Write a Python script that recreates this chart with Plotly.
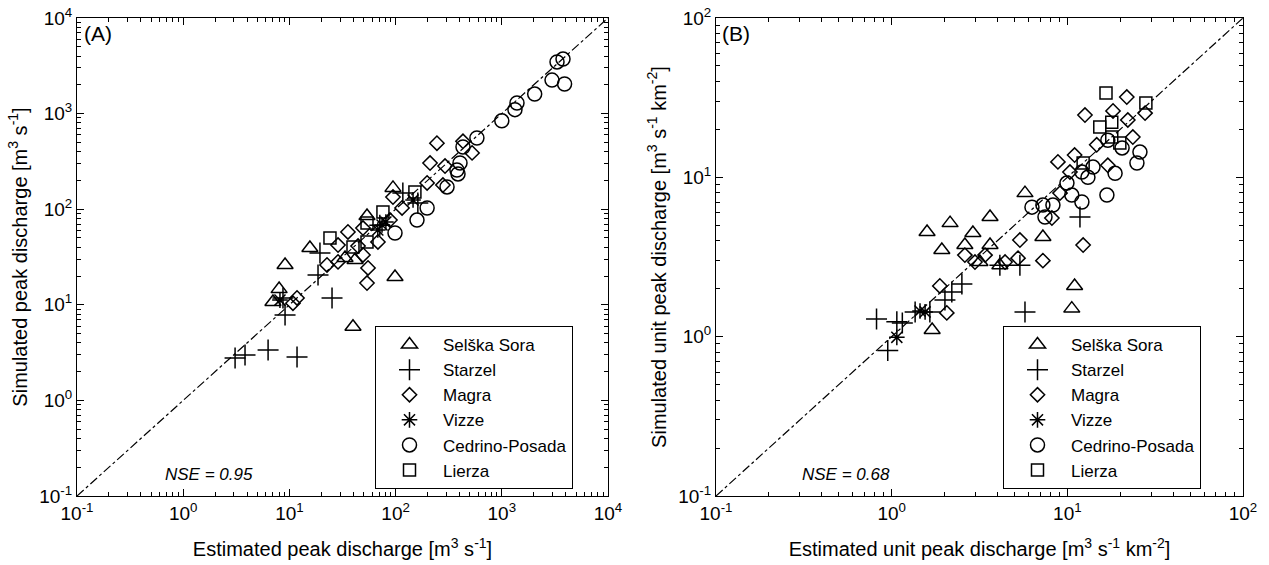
import plotly.graph_objects as go

# ---------------- Panel A data (m3/s) ----------------
a_sel_x = [15.6, 9.1, 8.0, 7.0, 98.7, 39.7, 53.8, 41.5, 33.4, 94.5]
a_sel_y = [39.3, 26.1, 14.6, 10.7, 19.5, 5.9, 84.9, 29.4, 30.9, 167]

a_sta_x = [3.08, 3.82, 6.3, 11.8, 25.2, 9.1, 8.7, 19.4, 18.6, 117, 162, 71]
a_sta_y = [2.78, 2.99, 3.37, 2.84, 11.8, 7.8, 11.8, 34.8, 20.5, 148, 116, 68]

a_mag_x = [10.8, 28.7, 22.6, 35.6, 49.3, 55, 53.8, 68.2, 94.5, 115, 211, 279, 245, 431, 525, 292, 198, 28.7, 49.3, 44.3, 11.8, 88.5]
a_mag_y = [10.4, 28.1, 26.1, 57.8, 33.2, 24.3, 16.9, 45.4, 134, 103, 304, 179, 490, 513, 388, 283, 188, 42.2, 63.5, 41.2, 11.8, 77]

a_viz_x = [8.15, 74.5, 81, 146, 68]
a_viz_y = [11.2, 68.4, 73.5, 125, 60.5]

a_ced_x = [3770, 3310, 2970, 3900, 2040, 1390, 1330, 1000, 583, 431, 404, 387, 98.7, 159, 198, 305, 378]
a_ced_y = [3720, 3470, 2240, 2040, 1600, 1290, 1100, 840, 556, 447, 304, 234, 56.4, 77, 103, 171, 257]

a_lie_x = [24.1, 53.8, 76, 39.7, 53.8, 152]
a_lie_y = [50, 71.7, 93.5, 40.2, 45.4, 151]

# ---------------- Panel B data (m3/s/km2) ----------------
b_sel_x = [5.74, 3.63, 2.15, 1.59, 2.90, 1.93, 7.26, 1.70, 11.0, 10.6, 2.61, 3.18, 3.63, 4.13]
b_sel_y = [7.96, 5.64, 5.16, 4.54, 4.47, 3.50, 4.22, 1.10, 2.08, 1.50, 3.76, 2.94, 3.76, 2.81]

b_sta_x = [0.82, 1.07, 0.95, 1.15, 1.36, 1.65, 11.8, 5.74, 2.01, 2.20, 2.51, 4.13, 5.37]
b_sta_y = [1.29, 1.24, 0.82, 1.22, 1.43, 1.43, 5.64, 1.43, 1.70, 1.91, 2.14, 2.81, 2.81]

b_mag_x = [21.8, 12.6, 18.2, 22.1, 23.6, 14.7, 11.0, 8.84, 17.0, 10.35, 9.08, 12.3, 8.17, 27.7, 1.88, 2.06, 2.61, 2.98, 3.40, 4.42, 5.24, 5.37, 7.26]
b_mag_y = [31.9, 24.6, 26.1, 22.9, 17.9, 16.0, 13.8, 12.5, 11.9, 10.8, 7.96, 3.76, 5.55, 25.3, 2.08, 1.41, 3.25, 2.94, 3.25, 2.94, 3.11, 4.04, 3.0]

b_viz_x = [1.07, 1.55, 1.45]
b_viz_y = [0.99, 1.43, 1.45]

b_ced_x = [25.9, 24.9, 18.7, 13.1, 12.1, 14.0, 9.95, 10.6, 16.8, 12.1, 8.28, 7.26, 6.29, 7.46, 17.0, 20.5]
b_ced_y = [14.4, 12.3, 10.6, 10.0, 10.8, 11.6, 9.2, 7.74, 7.74, 7.0, 6.7, 6.7, 6.5, 5.64, 17.1, 15.3]

b_lie_x = [16.6, 28.0, 15.3, 17.9, 19.9, 17.9, 12.3]
b_lie_y = [33.8, 29.3, 20.7, 22.2, 16.4, 17.9, 12.3]

# ---------------- ticks ----------------
a_major = [0.1, 1, 10, 100, 1000, 10000]
a_major_text = ["10<sup>-1</sup>", "10<sup>0</sup>", "10<sup>1</sup>", "10<sup>2</sup>", "10<sup>3</sup>", "10<sup>4</sup>"]
b_major = [0.1, 1, 10, 100]
b_major_text = ["10<sup>-1</sup>", "10<sup>0</sup>", "10<sup>1</sup>", "10<sup>2</sup>"]
a_minor = [m * d for d in [0.1, 1, 10, 100, 1000] for m in range(2, 10)]
b_minor = [m * d for d in [0.1, 1, 10] for m in range(2, 10)]

names = ["Selška Sora", "Starzel", "Magra", "Vizze", "Cedrino-Posada", "Lierza"]
symbols = ["triangle-up-open", "cross-thin-open", "diamond-open",
           "asterisk-open", "circle-open", "square-open"]
sizes = [14, 15, 11, 13, 14, 12]

a_sets = [(a_sel_x, a_sel_y), (a_sta_x, a_sta_y), (a_mag_x, a_mag_y),
          (a_viz_x, a_viz_y), (a_ced_x, a_ced_y), (a_lie_x, a_lie_y)]
b_sets = [(b_sel_x, b_sel_y), (b_sta_x, b_sta_y), (b_mag_x, b_mag_y),
          (b_viz_x, b_viz_y), (b_ced_x, b_ced_y), (b_lie_x, b_lie_y)]

a_line = [0.1, 1e4]
b_line = [0.1, 1e2]

FONT = "Liberation Sans, Arial, sans-serif"

fig = go.Figure()

# 1:1 lines (drawn on the overlay axes that carry the minor ticks)
fig.add_trace(go.Scatter(x=a_line, y=a_line, mode="lines", xaxis="x3", yaxis="y3",
                         line=dict(color="black", width=1.2, dash="dashdot"),
                         showlegend=False, hoverinfo="skip"))
fig.add_trace(go.Scatter(x=b_line, y=b_line, mode="lines", xaxis="x4", yaxis="y4",
                         line=dict(color="black", width=1.2, dash="dashdot"),
                         showlegend=False, hoverinfo="skip"))

for i, (xs, ys) in enumerate(a_sets):
    fig.add_trace(go.Scatter(
        x=xs, y=ys, mode="markers", name=names[i], xaxis="x", yaxis="y",
        legend="legend",
        marker=dict(symbol=symbols[i], size=sizes[i], color="black",
                    line=dict(color="black", width=1.5))))
for i, (xs, ys) in enumerate(b_sets):
    fig.add_trace(go.Scatter(
        x=xs, y=ys, mode="markers", name=names[i], xaxis="x2", yaxis="y2",
        legend="legend2",
        marker=dict(symbol=symbols[i], size=sizes[i], color="black",
                    line=dict(color="black", width=1.5))))

W, H = 1269, 565
axA = [77 / W, 608 / W]
axB = [716 / W, 1243 / W]
ydom = [1 - 496 / H, 1 - 18 / H]


def major_axis(rng, dom, title, anchor, vals, texts, standoff):
    return dict(
        type="log", range=rng, domain=dom, anchor=anchor,
        tickmode="array", tickvals=vals, ticktext=texts,
        ticks="inside", ticklen=7, tickwidth=1, tickcolor="black",
        mirror="ticks", showline=True, linecolor="black", linewidth=1,
        showgrid=False, zeroline=False, automargin=False,
        tickfont=dict(size=19, color="black", family=FONT),
        title=dict(text=title, font=dict(size=20, color="black", family=FONT), standoff=standoff),
    )


def minor_axis(rng, over, anchor, vals):
    return dict(
        type="log", range=rng, overlaying=over, anchor=anchor,
        tickmode="array", tickvals=vals, showticklabels=False,
        ticks="inside", ticklen=4, tickwidth=1, tickcolor="black",
        mirror="ticks", showline=False, showgrid=False, zeroline=False,
        automargin=False,
    )


fig.update_layout(
    width=W, height=H,
    margin=dict(l=0, r=0, t=0, b=0),
    paper_bgcolor="white", plot_bgcolor="white",
    font=dict(family=FONT, color="black"),
    xaxis=major_axis([-1, 4], axA, "Estimated peak discharge [m<sup>3</sup> s<sup>-1</sup>]", "y",
                     a_major, a_major_text, 19),
    yaxis=major_axis([-1, 4], ydom, "Simulated peak discharge [m<sup>3</sup> s<sup>-1</sup>]", "x",
                     a_major, a_major_text, 6),
    xaxis2=major_axis([-1, 2], axB, "Estimated unit peak discharge [m<sup>3</sup> s<sup>-1</sup> km<sup>-2</sup>]", "y2",
                      b_major, b_major_text, 19),
    yaxis2=major_axis([-1, 2], ydom, "Simulated unit peak discharge [m<sup>3</sup> s<sup>-1</sup> km<sup>-2</sup>]", "x2",
                      b_major, b_major_text, 6),
    xaxis3=minor_axis([-1, 4], "x", "y", a_minor),
    yaxis3=minor_axis([-1, 4], "y", "x", a_minor),
    xaxis4=minor_axis([-1, 2], "x2", "y2", b_minor),
    yaxis4=minor_axis([-1, 2], "y2", "x2", b_minor),
    legend=dict(x=375 / W, y=1 - 489 / H, xanchor="left", yanchor="bottom",
                bordercolor="black", borderwidth=1, bgcolor="white",
                font=dict(size=17, color="black", family=FONT), itemwidth=57),
    legend2=dict(x=1003 / W, y=1 - 489 / H, xanchor="left", yanchor="bottom",
                 bordercolor="black", borderwidth=1, bgcolor="white",
                 font=dict(size=17, color="black", family=FONT), itemwidth=57),
    annotations=[
        dict(text="(A)", x=82 / W, y=1 - 20 / H, xref="paper", yref="paper",
             xanchor="left", yanchor="top", showarrow=False,
             font=dict(size=21, color="black", family=FONT)),
        dict(text="(B)", x=720 / W, y=1 - 20 / H, xref="paper", yref="paper",
             xanchor="left", yanchor="top", showarrow=False,
             font=dict(size=21, color="black", family=FONT)),
        dict(text="<i>NSE = 0.95</i>", x=163 / W, y=1 - 474 / H, xref="paper", yref="paper",
             xanchor="left", yanchor="middle", showarrow=False,
             font=dict(size=17, color="black", family=FONT)),
        dict(text="<i>NSE = 0.68</i>", x=800 / W, y=1 - 474 / H, xref="paper", yref="paper",
             xanchor="left", yanchor="middle", showarrow=False,
             font=dict(size=17, color="black", family=FONT)),
    ],
)

fig.write_html("out.html")
